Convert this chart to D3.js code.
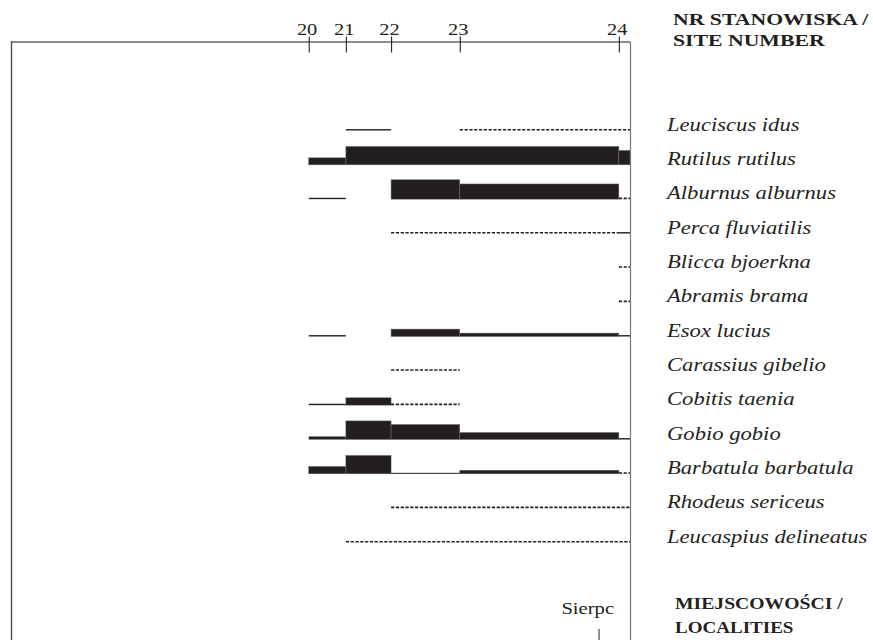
<!DOCTYPE html>
<html>
<head>
<meta charset="utf-8">
<script src="https://cdn.jsdelivr.net/npm/d3@7"></script>
<style>
  html, body { margin: 0; padding: 0; background: #fff; }
  svg { display: block; }
</style>
</head>
<body>
<svg id="chart" width="873" height="640"></svg>
<script>
// ---- data ----
const sites = ["20", "21", "22", "23", "24"];
const siteKm = [48.1, 54.1, 61.4, 72.5, 98.2];   // position of each site along the surveyed stretch
const species = [
  "Leuciscus idus", "Rutilus rutilus", "Alburnus alburnus", "Perca fluviatilis",
  "Blicca bjoerkna", "Abramis brama", "Esox lucius", "Carassius gibelio",
  "Cobitis taenia", "Gobio gobio", "Barbatula barbatula", "Rhodeus sericeus",
  "Leucaspius delineatus"
];
// abundance per site (number = relative abundance, "d" = single specimens, null = absent)
const abundance = [
  [null, 7, null, "d", "d"],
  [35, 92, 92, 92, 72],
  [7, null, 97, 76, "d"],
  [null, null, "d", "d", 7],
  [null, null, null, null, "d"],
  [null, null, null, null, "d"],
  [7, null, 37, 17, 7],
  [null, null, "d", null, null],
  [7, 37, "d", null, null],
  [15, 93, 75, 35, 7],
  [37, 92, 5, 18, "d"],
  [null, null, "d", "d", "d"],
  [null, "d", "d", "d", "d"]
];
const localities = ["Sierpc"];
const localityKm = [95.0];
const headerTop = ["NR STANOWISKA /", "SITE NUMBER"];
const headerBottom = ["MIEJSCOWOŚCI /", "LOCALITIES"];

// ---- layout ----
const ink = "#231f20";
const serif = "'Liberation Serif', 'Times New Roman', serif";
const frameL = 11, frameR = 630, frameT = 42, frameB = 640;

const svg = d3.select("#chart");
const x = d3.scaleLinear().domain([0, 100]).range([frameL, frameR]);
const y = d3.scalePoint().domain(species).range([130.5, 542.5]);
const h = d3.scaleLinear().domain([0, 100]).range([0, 20]);

// helper: text placed at (px,py), stretched horizontally by k
function stretchedText(px, py, k, str) {
  return svg.append("text")
    .attr("transform", `translate(${px},${py}) scale(${k},1)`)
    .attr("font-family", serif).attr("fill", ink).text(str);
}

// frame
svg.append("line").attr("x1", frameL).attr("x2", frameR + 0.5).attr("y1", frameT).attr("y2", frameT)
  .attr("stroke", "#8c8c8c").attr("stroke-width", 1.8);
svg.append("line").attr("x1", frameL + 0.5).attr("x2", frameL + 0.5).attr("y1", frameT - 0.9).attr("y2", frameB)
  .attr("stroke", "#444").attr("stroke-width", 1.3);
svg.append("line").attr("x1", frameR + 0.5).attr("x2", frameR + 0.5).attr("y1", frameT).attr("y2", frameB)
  .attr("stroke", "#777").attr("stroke-width", 1.2);

// top axis with site numbers
const axis = d3.axisTop(x).tickValues(siteKm).tickFormat((d, i) => sites[i]);
const gAxis = svg.append("g").attr("transform", `translate(0,${frameT})`).call(axis);
gAxis.select(".domain").remove();
gAxis.selectAll(".tick line").attr("y1", -5.5).attr("y2", 10.5).attr("stroke", ink).attr("stroke-width", 1.1);
gAxis.selectAll(".tick text").attr("y", -7).attr("dy", 0).attr("x", -1.8)
  .attr("transform", "scale(1.2,1)")
  .attr("font-family", serif).attr("font-size", 17).attr("fill", ink);

// species rows
const segEnd = i => (i < siteKm.length - 1 ? x(siteKm[i + 1]) : frameR);
const rows = svg.append("g");
species.forEach((sp, r) => {
  const vals = abundance[r];
  const base = y(sp);
  const runs = [];
  vals.forEach((v, i) => {
    if (v === null) return;
    const last = runs[runs.length - 1];
    if (last && last.v === v && last.end === i) { last.end = i + 1; }
    else runs.push({ v, start: i, end: i + 1 });
  });
  runs.forEach(run => {
    const x0 = x(siteKm[run.start]);
    const x1 = segEnd(run.end - 1);
    if (run.v === "d") {
      rows.append("line").attr("x1", x0).attr("x2", x1)
        .attr("y1", base - 0.8).attr("y2", base - 0.8)
        .attr("stroke", ink).attr("stroke-width", 1.6).attr("stroke-dasharray", "3.2,1.6");
    } else {
      const hh = h(run.v);
      rows.append("rect").attr("x", x0).attr("width", x1 - x0)
        .attr("y", base - hh).attr("height", hh)
        .attr("fill", ink).attr("stroke", hh > 3 ? "#6d6d6d" : "none").attr("stroke-width", 0.5);
    }
  });
  stretchedText(667, base, 1.16, sp)
    .attr("font-style", "italic").attr("font-size", 19.5);
});

// headers
const headerTopK = [1.36, 1.36];
headerTop.forEach((t, i) => {
  stretchedText(673, 25 + i * 21, headerTopK[i], t)
    .attr("font-weight", "bold").attr("font-size", 16);
});
const headerBottomK = [1.158, 1.12];
headerBottom.forEach((t, i) => {
  stretchedText(675, 609 + i * 24, headerBottomK[i], t)
    .attr("font-weight", "bold").attr("font-size", 17);
});

// localities
localities.forEach((name, i) => {
  const lx = x(localityKm[i]);
  stretchedText(lx + 15, 614, 1.25, name)
    .attr("text-anchor", "end").attr("font-size", 16.5);
  svg.append("line").attr("x1", lx).attr("x2", lx).attr("y1", 629).attr("y2", frameB)
    .attr("stroke", ink).attr("stroke-width", 1);
});
</script>
</body>
</html>
